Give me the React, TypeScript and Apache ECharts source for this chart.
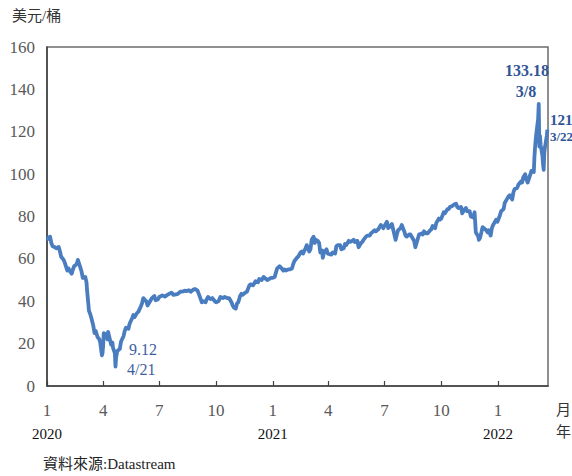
import React, { useEffect, useRef } from "react";
import * as echarts from "echarts";

// ---- data ----
const dates2020 = [
  "2020-01-02","2020-01-03","2020-01-06","2020-01-08","2020-01-10","2020-01-14","2020-01-16","2020-01-20","2020-01-22","2020-01-24","2020-01-28","2020-01-30",
  "2020-02-03","2020-02-05","2020-02-07","2020-02-10","2020-02-12","2020-02-14","2020-02-18","2020-02-20","2020-02-24","2020-02-26","2020-02-28",
  "2020-03-03","2020-03-05","2020-03-06","2020-03-09","2020-03-11","2020-03-13","2020-03-16","2020-03-18","2020-03-20","2020-03-23","2020-03-25","2020-03-27","2020-03-30","2020-03-31",
  "2020-04-01","2020-04-02","2020-04-06","2020-04-08","2020-04-09","2020-04-14","2020-04-16","2020-04-17","2020-04-20","2020-04-21","2020-04-22","2020-04-24","2020-04-28","2020-04-30",
  "2020-05-04","2020-05-06","2020-05-08","2020-05-12","2020-05-14","2020-05-18","2020-05-20","2020-05-22","2020-05-26","2020-05-28",
  "2020-06-01","2020-06-03","2020-06-05","2020-06-08","2020-06-10","2020-06-12","2020-06-15","2020-06-17","2020-06-19","2020-06-23","2020-06-25","2020-06-29",
  "2020-07-01","2020-07-06","2020-07-10","2020-07-14","2020-07-17","2020-07-21","2020-07-24","2020-07-28","2020-07-31",
  "2020-08-04","2020-08-07","2020-08-11","2020-08-14","2020-08-18","2020-08-21","2020-08-25","2020-08-28",
  "2020-09-01","2020-09-03","2020-09-08","2020-09-10","2020-09-14","2020-09-16","2020-09-18","2020-09-22","2020-09-25","2020-09-29",
  "2020-10-01","2020-10-05","2020-10-08","2020-10-12","2020-10-15","2020-10-19","2020-10-22","2020-10-26","2020-10-28","2020-10-30",
  "2020-11-02","2020-11-04","2020-11-06","2020-11-09","2020-11-11","2020-11-13","2020-11-17","2020-11-20","2020-11-24","2020-11-26","2020-11-30",
  "2020-12-02","2020-12-04","2020-12-08","2020-12-10","2020-12-14","2020-12-17","2020-12-21","2020-12-23","2020-12-29","2020-12-31",
];
const prices2020 = [
  68.6,70.0,70.4,67.5,66.0,65.5,65.0,65.6,63.5,61.0,59.5,58.0,
  54.5,55.5,54.2,53.0,55.0,56.5,57.5,59.5,56.0,54.0,51.0,
  51.5,49.0,45.0,35.5,34.0,32.0,28.5,25.0,26.0,23.0,22.5,21.0,14.5,15.5,
  19.0,25.0,24.0,22.0,25.5,19.5,20.5,18.0,15.5,9.12,13.5,16.5,17.5,21.0,
  23.5,26.0,27.5,27.0,29.5,32.0,33.5,32.5,34.5,35.0,
  37.5,39.0,41.5,40.5,40.0,38.0,39.5,40.5,41.5,42.5,40.5,41.0,
  42.0,42.8,42.2,43.0,43.5,44.0,43.0,43.2,43.5,
  44.5,44.5,45.0,44.8,45.2,44.5,45.5,45.8,
  45.0,43.5,39.5,40.0,39.5,41.0,42.0,41.0,41.5,40.0,
  39.5,40.0,42.0,41.5,42.0,41.5,41.5,39.5,38.0,37.0,
  36.5,39.0,39.5,42.5,43.5,43.0,44.0,44.5,47.5,48.0,47.5,
  48.5,49.5,49.0,50.5,50.0,51.5,50.5,50.0,51.0,51.0,
];
const dates2021 = [
  "2021-01-04","2021-01-06","2021-01-08","2021-01-12","2021-01-14","2021-01-18","2021-01-20","2021-01-22","2021-01-26","2021-01-28",
  "2021-02-01","2021-02-03","2021-02-05","2021-02-09","2021-02-11","2021-02-15","2021-02-17","2021-02-19","2021-02-23","2021-02-25",
  "2021-03-01","2021-03-03","2021-03-05","2021-03-08","2021-03-10","2021-03-12","2021-03-15","2021-03-17","2021-03-19","2021-03-22","2021-03-23","2021-03-25","2021-03-29","2021-03-31",
  "2021-04-06","2021-04-08","2021-04-12","2021-04-14","2021-04-16","2021-04-20","2021-04-22","2021-04-26","2021-04-28","2021-04-30",
  "2021-05-04","2021-05-06","2021-05-10","2021-05-12","2021-05-14","2021-05-18","2021-05-20","2021-05-24","2021-05-26","2021-05-28",
  "2021-06-01","2021-06-03","2021-06-07","2021-06-09","2021-06-11","2021-06-15","2021-06-17","2021-06-21","2021-06-23","2021-06-25","2021-06-29",
  "2021-07-01","2021-07-05","2021-07-07","2021-07-09","2021-07-13","2021-07-15","2021-07-19","2021-07-21","2021-07-23","2021-07-27","2021-07-29",
  "2021-08-02","2021-08-04","2021-08-06","2021-08-10","2021-08-12","2021-08-16","2021-08-18","2021-08-20","2021-08-24","2021-08-26","2021-08-30",
  "2021-09-01","2021-09-03","2021-09-07","2021-09-09","2021-09-13","2021-09-15","2021-09-17","2021-09-21","2021-09-23","2021-09-27","2021-09-29",
  "2021-10-01","2021-10-05","2021-10-07","2021-10-11","2021-10-13","2021-10-15","2021-10-19","2021-10-21","2021-10-25","2021-10-27","2021-10-29",
  "2021-11-02","2021-11-04","2021-11-08","2021-11-10","2021-11-12","2021-11-16","2021-11-18","2021-11-22","2021-11-24","2021-11-26","2021-11-30",
  "2021-12-01","2021-12-03","2021-12-07","2021-12-09","2021-12-13","2021-12-15","2021-12-17","2021-12-20","2021-12-22","2021-12-24","2021-12-29","2021-12-31",
];
const prices2021 = [
  51.5,53.5,55.5,56.5,56.0,54.5,55.0,54.5,55.0,55.0,
  55.5,57.5,59.0,60.5,61.0,63.0,63.5,62.5,65.0,66.5,
  63.5,64.5,69.0,70.5,67.5,69.0,68.5,67.5,63.0,64.0,60.5,63.0,64.5,62.5,
  62.0,63.0,62.5,66.0,66.5,66.5,64.5,65.0,67.0,66.5,
  68.5,68.0,68.5,69.0,68.0,68.5,65.5,67.5,68.0,69.0,
  70.5,71.0,71.0,72.0,72.5,73.5,73.0,74.0,75.0,76.0,74.5,
  75.5,77.5,74.5,75.0,76.5,74.0,69.0,71.5,73.5,74.5,76.0,
  73.0,71.0,70.5,71.5,71.5,69.5,68.5,65.5,69.5,71.5,72.0,
  71.5,73.0,72.0,72.0,73.5,74.0,75.5,74.5,77.0,79.0,78.5,
  79.0,82.0,81.5,83.5,83.5,84.5,85.0,85.5,86.0,84.5,84.0,
  84.5,81.5,83.5,84.0,82.5,82.5,80.0,79.5,82.0,72.5,70.5,
  69.0,70.0,75.0,74.5,73.5,72.5,73.5,71.0,74.5,76.0,78.5,77.5,
];
const dates2022 = [
  "2022-01-04","2022-01-06","2022-01-10","2022-01-12","2022-01-14","2022-01-18","2022-01-20","2022-01-24","2022-01-26","2022-01-28",
  "2022-02-01","2022-02-03","2022-02-07","2022-02-09","2022-02-11","2022-02-14","2022-02-16","2022-02-18","2022-02-22","2022-02-24","2022-02-28",
  "2022-03-01","2022-03-02","2022-03-03","2022-03-04","2022-03-07","2022-03-08","2022-03-09","2022-03-10","2022-03-11","2022-03-14","2022-03-15","2022-03-16","2022-03-17","2022-03-18","2022-03-21","2022-03-22",
];
const prices2022 = [
  80.5,82.5,83.5,86.5,87.5,89.5,90.0,88.0,91.5,93.0,
  93.5,95.0,96.5,96.0,98.5,100.0,97.5,96.0,99.5,101.5,101.0,
  108.0,112.5,116.0,119.0,126.0,133.18,113.0,118.0,114.0,108.5,104.5,102.0,110.0,112.5,118.0,121.0,
];
const quarterTicks = [
  "2020-01-01","2020-04-01","2020-07-01","2020-10-01",
  "2021-01-01","2021-04-01","2021-07-01","2021-10-01","2022-01-01",
];
const xStart = "2020-01-01";
const xEnd = "2022-03-23";
const yMin = 0;
const yMax = 160;
const yStep = 20;

const DAY = 86400000;
const utc = (s: string) => {
  const [y, m, d] = s.split("-").map(Number);
  return Date.UTC(y, m - 1, d);
};
// day offset from the axis start
const dayOf = (s: string) => Math.round((utc(s) - utc(xStart)) / DAY);

const SERIF = '"Liberation Serif", "Times New Roman", serif';
const CJK = '"Liberation Serif", "Noto Sans CJK TC", serif';

export default function App() {
  const ref = useRef<HTMLDivElement>(null);
  useEffect(() => {
    if (!ref.current) return;
    const chart = echarts.init(ref.current, undefined, { renderer: "svg" });
    const dates = [...dates2020, ...dates2021, ...dates2022];
    const prices = [...prices2020, ...prices2021, ...prices2022];
    const data = dates.map((d, i) => [dayOf(d), prices[i]]);
    const tickVals = quarterTicks.map(dayOf);
    chart.setOption({
      animation: false,
      backgroundColor: "#ffffff",
      grid: {
        left: 47,
        right: 24,
        top: 47,
        bottom: 90,
        show: true,
        borderColor: "#6b6b6b",
        borderWidth: 1.5,
        backgroundColor: "transparent",
      },
      xAxis: {
        type: "value",
        min: 0,
        max: dayOf(xEnd),
        axisLine: { show: true, lineStyle: { color: "#404040", width: 1.5 } },
        axisTick: {
          show: true,
          inside: true,
          length: 5,
          customValues: tickVals,
          lineStyle: { color: "#404040", width: 1.2 },
        },
        axisLabel: {
          show: true,
          customValues: tickVals,
          margin: 13,
          showMinLabel: true,
          hideOverlap: false,
          formatter: (val: number) => {
            const d = new Date(utc(xStart) + val * DAY);
            const m = d.getUTCMonth() + 1;
            return m === 1 ? `{m|${m}}\n{y|${d.getUTCFullYear()}}` : `{m|${m}}`;
          },
          rich: {
            m: { fontFamily: SERIF, fontSize: 17, color: "#595959", lineHeight: 23, align: "center" },
            y: { fontFamily: SERIF, fontSize: 15, color: "#111111", lineHeight: 23, align: "center" },
          },
        },
        splitLine: { show: false },
      },
      yAxis: {
        type: "value",
        min: yMin,
        max: yMax,
        interval: yStep,
        axisLine: { show: true, lineStyle: { color: "#404040", width: 1.5 } },
        axisTick: { show: false },
        axisLabel: { margin: 12, fontFamily: SERIF, fontSize: 17, color: "#595959" },
        splitLine: { show: false },
      },
      graphic: [
        { type: "text", left: 12, top: 8, style: { text: "美元/桶", font: `15px ${CJK}`, fill: "#333333" } },
        { type: "text", x: 556, y: 402, style: { text: "月", font: `15px ${CJK}`, fill: "#333333" } },
        { type: "text", x: 556, y: 424, style: { text: "年", font: `15px ${CJK}`, fill: "#333333" } },
        { type: "text", x: 43, y: 456, style: { text: "資料來源:Datastream", font: `15px ${CJK}`, fill: "#222222" } },
        { type: "text", x: 129, y: 341, style: { text: "9.12", font: `16px ${SERIF}`, fill: "#3d5e9e" } },
        { type: "text", x: 127, y: 361, style: { text: "4/21", font: `16px ${SERIF}`, fill: "#3d5e9e" } },
        { type: "text", x: 527, y: 62, style: { text: "133.18", font: `bold 16px ${SERIF}`, fill: "#2f5597", align: "center" } },
        { type: "text", x: 526, y: 83, style: { text: "3/8", font: `bold 16px ${SERIF}`, fill: "#2f5597", align: "center" } },
        { type: "text", x: 550, y: 112, style: { text: "121", font: `bold 15px ${SERIF}`, fill: "#2f5597" } },
        { type: "text", x: 550, y: 130, style: { text: "3/22", font: `bold 13px ${SERIF}`, fill: "#2f5597" } },
      ],
      series: [
        {
          type: "line",
          data,
          showSymbol: false,
          symbol: "none",
          lineStyle: { color: "#4a7dc0", width: 3.8, join: "round" },
          z: 3,
        },
      ],
    });
    return () => chart.dispose();
  }, []);
  return (
    <div
      ref={ref}
      style={{ position: "absolute", left: 0, top: 0, width: 572, height: 476 }}
    />
  );
}
